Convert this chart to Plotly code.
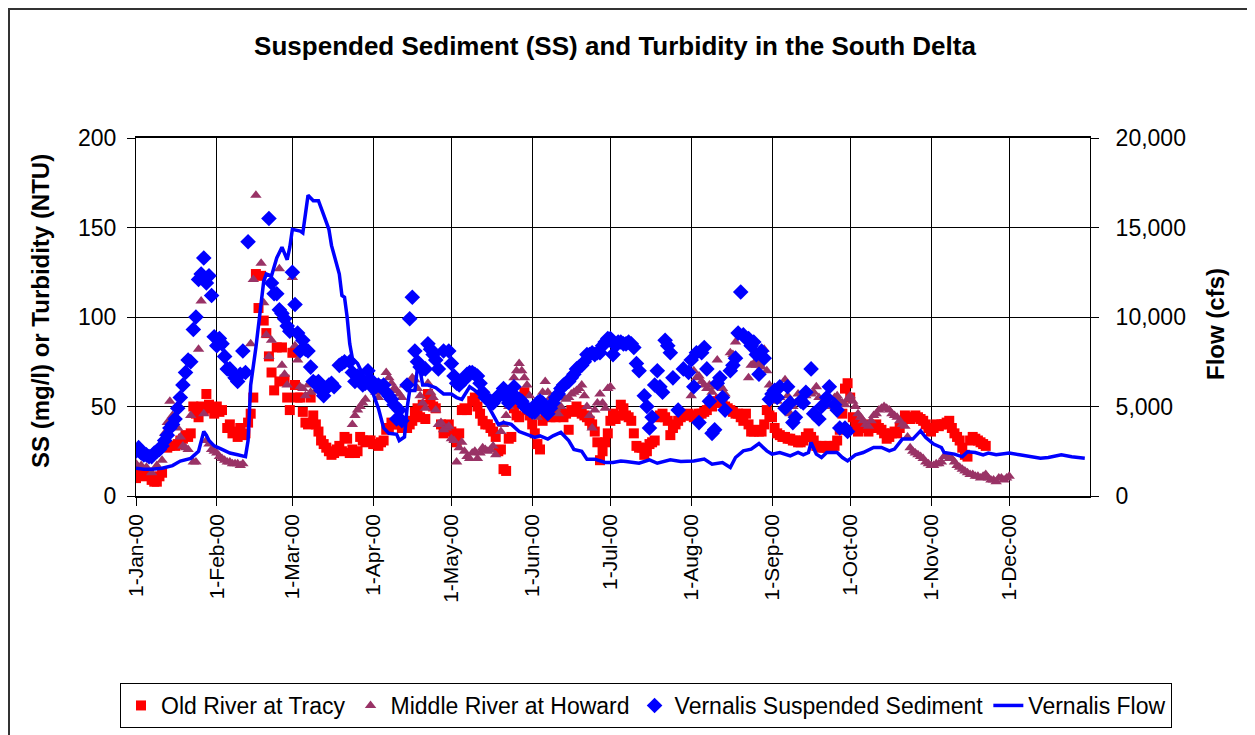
import plotly.graph_objects as go
import pandas as pd

# days counted from 1-Jan-2000
base = "2000-01-01"

tracy_day = [0, 1, 2, 3, 5, 6, 7, 8, 9, 10, 12, 13, 15, 16, 17, 18, 19, 20, 21, 22, 23, 24, 25, 26, 27, 28, 29, 30,
             31, 32, 33, 35, 36, 37, 38, 39, 40, 41, 42, 43, 44, 45, 46, 47, 48, 49, 50, 51, 52, 53, 54, 55, 56, 57,
             58, 59, 60, 61, 62, 63, 64, 65, 66, 67, 68, 69, 70, 71, 72, 73, 74, 75, 76, 77, 78, 79, 80, 81, 82, 83,
             84, 85, 86, 87, 88, 89, 90, 91, 92, 93, 94, 95, 96, 97, 98, 99, 100, 102, 104, 105, 106, 107, 108, 109,
             110, 111, 112, 113, 114, 115, 117, 118, 120, 121, 122, 123, 124, 125, 126, 127, 129, 130, 131, 132, 133,
             134, 135, 136, 137, 138, 139, 140, 141, 142, 143, 144, 145, 146, 147, 148, 149, 150, 151, 152, 153, 154,
             155, 156, 157, 158, 159, 160, 161, 162, 163, 164, 165, 166, 167, 168, 169, 170, 171, 172, 173, 174, 175,
             176, 177, 178, 179, 180, 181, 182, 183, 184, 185, 186, 187, 188, 189, 190, 191, 192, 193, 194, 195, 196,
             197, 198, 199, 200, 201, 202, 203, 204, 205, 206, 207, 208, 209, 210, 211, 212, 213, 214, 215, 216, 217,
             218, 219, 220, 221, 222, 223, 224, 225, 226, 227, 228, 229, 230, 231, 232, 233, 234, 235, 236, 237, 238,
             239, 240, 241, 242, 243, 244, 245, 246, 247, 248, 249, 250, 251, 252, 253, 254, 255, 256, 257, 258, 259,
             260, 261, 262, 263, 264, 265, 266, 267, 268, 269, 270, 271, 272, 273, 274, 275, 276, 277, 278, 279, 280,
             281, 282, 283, 284, 285, 286, 287, 288, 289, 290, 291, 292, 293, 294, 295, 296, 297, 298, 299, 300, 301,
             302, 303, 304, 305, 306, 307, 308, 309, 310, 311, 312, 313, 314, 315, 316, 317, 318, 319, 320, 321, 322,
             323, 324, 325, 326]
tracy_val = [10, 14, 12, 11, 13, 9, 8, 8, 11, 13, 27, 28, 28, 29, 31, 32, 34, 33, 35, 50, 46, 44, 50, 48, 57, 51, 49, 46,
             50, 47, 48, 38, 40, 35, 36, 33, 38, 34, 35, 41, 46, 55, 124, 105, 123, 98, 91, 78, 69, 59, 83, 64, 83, 65,
             55, 48, 80, 62, 55, 55, 47, 41, 40, 55, 45, 40, 36, 31, 29, 27, 25, 23, 24, 26, 28, 25, 33, 32, 24, 26,
             24, 25, 33, 31, 30, 31, 31, 29, 29, 28, 30, 31, 37, 38, 41, 40, 40, 38, 38, 40, 42, 47, 49, 44,
             51, 43, 57, 54, 50, 49, 40, 35, 40, 36, 33, 30, 35, 48, 49, 48, 53, 55, 50, 46, 42,
             40, 40, 38, 36, 33, 25, 26, 15, 14, 32, 33, 49, 45, 44, 52, 58, 48, 45, 40, 35, 29,
             26, 42, 45, 49, 44, 45, 44, 47, 46, 44, 46, 37, 48, 47, 50, 48, 46, 45, 44, 42, 40,
             36, 30, 20, 25, 30, 35, 42, 46, 43, 45, 51, 49, 45, 44, 42, 35, 28, 27, 27, 23, 25,
             29, 30, 31, 44, 45, 46, 44, 42, 34, 38, 40, 42, 44, 45, 45, 46, 45, 44, 45, 46, 46,
             47, 48, 51, 50, 52, 53, 54, 52, 50, 49, 48, 47, 46, 46, 44, 42, 46, 40, 36, 36, 37,
             36, 36, 40, 48, 45, 44, 38, 35, 34, 33, 33, 32, 32, 31, 31, 30, 30, 31, 33, 35, 33,
             31, 28, 27, 28, 27, 27, 28, 27, 28, 31, 37, 46, 60, 63, 55, 44, 40, 36, 38, 40, 38,
             36, 38, 39, 40, 38, 37, 35, 32, 33, 35, 36, 35, 38, 42, 45, 44, 43, 44, 45, 44, 43,
             42, 40, 38, 36, 38, 40, 39, 40, 40, 41, 42, 38, 35, 33, 31, 27, 23, 22, 31, 33, 32,
             31, 30, 29, 28]

howard_day = [0, 2, 4, 6, 8, 10, 11, 12, 13, 14, 15, 16, 17, 18, 19, 20, 21, 22, 23, 24, 25, 26, 27, 28, 29, 30, 31,
              32, 33, 34, 35, 36, 37, 38, 39, 40, 41, 44, 45, 46, 48, 49, 50, 51, 52, 55, 56, 57, 58, 60, 61, 62, 63,
              64, 65, 66, 67, 69, 71, 73, 83, 84, 85, 86, 87, 88, 89, 90, 91, 92, 93, 94, 95, 96, 97, 98, 99, 100,
              101, 102, 103, 104, 105, 106, 107, 108, 109, 110, 111, 112, 113, 114, 115, 116, 117, 118, 119, 120,
              121, 122, 123, 124, 125, 126, 127, 128, 129, 130, 131, 132, 133, 134, 135, 136, 137, 138, 140, 141,
              142, 143, 144, 145, 146, 147, 148, 149, 150, 151, 152, 153, 154, 155, 156, 157, 158, 159, 160, 161,
              162, 163, 164, 165, 166, 167, 168, 169, 170, 171, 172, 173, 174, 175, 176, 177, 178, 179, 180, 181,
              182, 213, 214, 215, 216, 217, 218, 219, 220, 221, 222, 223, 224, 225, 226, 228, 229, 230, 235, 236,
              237, 238, 239, 240, 241, 242, 243, 244, 245, 246, 247, 248, 249, 250, 251, 252, 253, 254, 255, 256,
              257, 258, 259, 260, 261, 262, 263, 264, 265, 266, 267, 268, 269, 270, 271, 272, 273, 274, 275, 276,
              277, 278, 279, 280, 281, 282, 283, 284, 285, 286, 287, 288, 289, 290, 291, 292, 293, 294, 295, 296,
              297, 298, 299, 300, 301, 302, 303, 304, 305, 306, 307, 308, 309, 310, 311, 312, 313, 314, 315, 316,
              317, 318, 319, 320, 321, 322, 323, 324, 325, 326, 327, 328, 329, 330, 331, 332, 333, 334, 335]
howard_val = [18, 17, 16, 13, 17, 20, 35, 41, 53, 45, 44, 38, 33, 28, 27, 26, 45, 19, 19, 82, 109, 46, 31, 29, 26, 25, 24,
              22, 21, 20, 19, 19, 18, 18, 18, 17, 18, 85, 121, 168, 130, 108, 90, 78, 87, 127, 73, 68, 62, 122, 84, 76, 61,
              60, 56, 62, 58, 59, 61, 62, 40, 45, 48, 50, 52, 54, 66, 64, 62, 58, 55, 60, 63, 69, 66, 63, 60, 59,
              57, 55, 62, 63, 64, 66, 65, 60, 56, 52, 49, 63, 58, 55, 48, 40, 41, 37, 38, 39,
              32, 31, 19, 27, 30, 25, 22, 21, 24, 25, 21, 24, 27, 26, 25, 26, 28, 23, 36, 40,
              45, 50, 58, 66, 70, 74, 70, 66, 62, 56, 49, 46, 44, 48, 58, 64, 58, 55, 51, 49,
              46, 50, 55, 54, 55, 57, 58, 59, 60, 62, 56, 50, 45, 38, 48, 52, 57, 52, 49, 60,
              61, 56, 70, 66, 67, 64, 62, 60, 62, 58, 61, 76, 62, 60, 57, 80, 79, 86, 66, 73,
              74, 73, 74, 72, 82, 70, 62, 60, 58, 53, 55, 60, 65, 56, 46, 50, 52, 57, 55, 54,
              56, 58, 57, 58, 61, 55, 51, 53, 54, 52, 50, 55, 56, 53, 52, 51, 54, 56, 53, 50,
              46, 44, 42, 40, 39, 42, 45, 46, 48, 49, 50, 49, 48, 46, 45, 44, 42, 40, 39, 33,
              27, 25, 24, 23, 22, 21, 19, 18, 17, 17, 18, 18, 19, 22, 22, 21, 21, 19, 17, 16,
              15, 14, 13, 12, 12, 11, 11, 10, 11, 12, 10, 9, 9, 8, 10, 10, 9, 10, 11]

vernalis_day = [0, 1, 2, 3, 4, 5, 6, 7, 8, 9, 10, 11, 12, 13, 14, 15, 16, 17, 18, 19, 20, 21, 22, 23, 24, 25, 26, 27,
                28, 29, 30, 31, 32, 33, 34, 35, 36, 37, 38, 39, 40, 41, 42, 43, 51, 52, 53, 54, 55, 56, 57, 58, 59,
                60, 61, 62, 63, 64, 65, 66, 67, 68, 69, 70, 71, 72, 73, 74, 75, 76, 78, 79, 80, 82, 83, 84, 85, 86,
                87, 88, 89, 90, 91, 92, 93, 94, 95, 96, 97, 98, 99, 100, 101, 102, 104, 105, 106, 107, 108, 109, 110,
                111, 112, 113, 114, 115, 116, 118, 120, 121, 122, 123, 124, 125, 126, 127, 128, 129, 130, 131, 132,
                133, 134, 135, 136, 137, 138, 139, 140, 141, 142, 143, 144, 145, 146, 147, 148, 149, 150, 151, 152,
                153, 154, 155, 156, 157, 158, 159, 160, 161, 162, 163, 164, 165, 166, 167, 168, 169, 170, 171, 172,
                173, 174, 175, 176, 177, 178, 179, 180, 181, 182, 183, 184, 185, 186, 187, 188, 189, 190, 191, 192,
                193, 195, 196, 197, 198, 199, 200, 201, 202, 203, 204, 205, 206, 208, 210, 212, 213, 214, 215, 216,
                217, 218, 219, 220, 221, 222, 223, 224, 225, 226, 228, 229, 230, 231, 232, 233, 234, 235, 236, 237,
                238, 239, 240, 241, 243, 244, 245, 246, 247, 249, 250, 251, 252, 253, 255, 256, 257, 259, 260, 262,
                263, 265, 266, 268, 269, 270, 272, 273]
vernalis_val = [25, 27, 24, 23, 23, 22, 22, 24, 25, 26, 28, 31, 34, 38, 40, 43, 49, 55, 62, 69, 76, 75, 93, 100, 121, 124,
                133, 119, 123, 112, 89, 84, 88, 85, 78, 71, 71, 69, 66, 64, 68, 81, 69, 142, 155, 119, 113, 113, 104,
                102, 99, 95, 92, 125, 107, 91, 81, 87, 82, 81, 72, 64, 63, 64, 59, 56, 60, 62, 63, 61, 73, 74, 75,
                75, 69, 64, 67, 66, 62, 63, 70, 65, 62, 61, 62, 61, 62, 58, 56, 54, 51, 43, 48, 42, 62, 99, 111, 81,
                75, 72, 71, 71, 85, 82, 79, 76, 71, 81, 81, 74, 67, 63, 62, 64, 65, 68, 69, 69, 68, 67, 63, 58, 55,
                54, 53, 52, 54, 56, 57, 60, 55, 52, 57, 61, 55, 54, 53, 50, 49, 48, 47, 47, 52, 53, 52, 48, 46, 49,
                52, 55, 57, 60, 62, 63, 64, 66, 68, 71, 72, 73, 75, 79, 79, 80, 79, 80, 80, 84, 86, 88, 88, 79, 84,
                86, 86, 85, 85, 86, 85, 83, 74, 70, 56, 50, 38, 44, 62, 70, 61, 58, 87, 84, 80, 66, 48, 71, 69, 76,
                61, 80, 41, 80, 83, 71, 53, 35, 37, 63, 66, 55, 48, 70, 73, 77, 91, 114, 90, 88, 88, 84, 86, 79, 68,
                81, 77, 54, 57, 59, 55, 61, 49, 61, 52, 41, 44, 53, 52, 58, 71, 46, 43, 50, 55, 61, 51, 48, 38, 38,
                36]

flow_day = [0, 3, 6, 10, 14, 17, 21, 24, 26, 27, 28, 30, 33, 36, 39, 42, 43, 44, 46, 47, 49, 50, 52, 54, 56, 58, 59,
            60, 63, 64, 65, 66, 68, 70, 72, 74, 75, 78, 79, 80, 81, 82, 83, 85, 87, 88, 91, 93, 95, 97, 100, 101, 103,
            104, 105, 107, 108, 109, 110, 112, 115, 118, 121, 123, 125, 128, 130, 133, 136, 139, 141, 144, 147, 150,
            153, 155, 158, 160, 163, 166, 168, 171, 173, 176, 180, 183, 186, 188, 193, 197, 200, 205, 209, 214, 218,
            221, 225, 228, 230, 233, 236, 239, 242, 244, 247, 251, 254, 256, 258, 259, 261, 263, 265, 269, 271, 273,
            276, 279, 283, 286, 289, 291, 294, 298, 301, 303, 306, 309, 310, 314, 317, 319, 322, 325, 327, 330, 335,
            339, 343, 347, 350, 355, 359, 364]
flow_cfs = [1550, 1500, 1500, 1550, 1700, 1950, 2100, 2500, 3600, 3400, 3100, 2800, 2600, 2400, 2300, 2200, 3100, 6200,
            8300, 9600, 12000, 12400, 12300, 13300, 13900, 13200, 13900, 14900, 14800, 14700, 15600, 16800, 16500,
            16500, 15700, 14900, 14000, 12400, 11200, 11100, 10000, 8500, 7700, 7400, 6800, 6200, 5700, 4900, 3800,
            3500, 3450, 3100, 3300, 4900, 5900, 5900, 7200, 7000, 6200, 6200, 6050, 5700, 5700, 5500, 5400, 6100,
            5900, 5500, 4800, 4000, 4100, 4000, 3600, 3460, 3270, 3360, 3180, 3360, 3550, 3100, 2600, 2500, 2060,
            2060, 1870, 1870, 1960, 1930, 1830, 2020, 1830, 2020, 1930, 1960, 2060, 1780, 1870, 1590, 2150, 2520,
            2620, 2930, 2520, 2340, 2430, 2240, 2430, 2300, 2430, 2990, 2340, 2150, 2430, 2430, 2150, 1960, 2300,
            2430, 2710, 2710, 2520, 2620, 3180, 3180, 3640, 3270, 2900, 2710, 2430, 2340, 2190, 2470, 2430, 2300,
            2400, 2300, 2400, 2300, 2190, 2110, 2150, 2300, 2190, 2110]

month_ticks = ["2000-01-01", "2000-02-01", "2000-03-01", "2000-04-01", "2000-05-01", "2000-06-01",
               "2000-07-01", "2000-08-01", "2000-09-01", "2000-10-01", "2000-11-01", "2000-12-01"]


def to_dates(days):
    return pd.Timestamp(base) + pd.to_timedelta(days, unit="D")


# the page puts the figure 8px in from the top-left corner
W, H = 1247, 727
# plot area in page pixels: x 136..1090, y 138..496
def px(x):
    return (x - 136) / 954


def py(y):
    return (496 - y) / 358


font = "Arial, Liberation Sans, sans-serif"

fig = go.Figure()
fig.add_trace(go.Scatter(x=to_dates(tracy_day), y=tracy_val, mode="markers", name="Old River at Tracy",
                         marker=dict(symbol="square", size=10, color="#FF0000")))
fig.add_trace(go.Scatter(x=to_dates(howard_day), y=howard_val, mode="markers", name="Middle River at Howard",
                         marker=dict(symbol="triangle-up", size=10, color="#993366")))
fig.add_trace(go.Scatter(x=to_dates(vernalis_day), y=vernalis_val, mode="markers",
                         name="Vernalis Suspended Sediment",
                         marker=dict(symbol="diamond", size=12, color="#0000FF")))
fig.add_trace(go.Scatter(x=to_dates(flow_day), y=flow_cfs, mode="lines", name="Vernalis Flow", yaxis="y2",
                         line=dict(color="#0000FF", width=3.5)))

fig.update_layout(
    width=W, height=H,
    margin=dict(l=128, r=165, t=130, b=239, autoexpand=False),
    paper_bgcolor="white", plot_bgcolor="white",
    font=dict(family=font, color="black", size=21),
    title=dict(text="<b>Suspended Sediment (SS) and Turbidity in the South Delta</b>",
               x=(615 - 8) / W, xanchor="center", y=1 - (46 - 8) / H, yanchor="middle",
               font=dict(size=26, family=font, color="black")),
    xaxis=dict(type="date", range=["2000-01-01", "2001-01-01"], tickvals=month_ticks,
               tickformat="%-d-%b-%y", tickangle=-90, ticks="outside", ticklen=8, tickcolor="black",
               showgrid=True, gridcolor="black", gridwidth=1, showline=True, linecolor="black",
               linewidth=1.5, mirror=True, tickfont=dict(size=21)),
    yaxis=dict(range=[0, 200], dtick=50, ticks="outside", ticklen=8, tickcolor="black",
               showgrid=True, gridcolor="black", gridwidth=1, showline=True, linecolor="black",
               zeroline=False, tickfont=dict(size=23), ticklabelstandoff=6),
    yaxis2=dict(range=[0, 20000], dtick=5000, tickformat=",", overlaying="y", side="right",
                ticks="outside", ticklen=8, tickcolor="black", showgrid=False, showline=True,
                linecolor="black", zeroline=False, tickfont=dict(size=23), ticklabelstandoff=12),
    showlegend=True,
    legend=dict(orientation="h", x=px(1172), xanchor="right", y=py(683), yanchor="top",
                bordercolor="black", borderwidth=1, font=dict(size=23), bgcolor="white"),
    annotations=[
        dict(text="<b>SS (mg/l) or Turbidity (NTU)</b>", xref="paper", yref="paper",
             x=px(40), y=py(311), textangle=-90, showarrow=False,
             xanchor="center", yanchor="middle", font=dict(size=24)),
        dict(text="<b>Flow (cfs)</b>", xref="paper", yref="paper",
             x=px(1215), y=py(324), textangle=-90, showarrow=False,
             xanchor="center", yanchor="middle", font=dict(size=24)),
    ],
    shapes=[
        dict(type="rect", xref="paper", yref="paper", x0=px(9), x1=px(1270),
             y0=py(750), y1=py(9), line=dict(color="#333333", width=2)),
    ],
)

fig.write_html("out.html")
